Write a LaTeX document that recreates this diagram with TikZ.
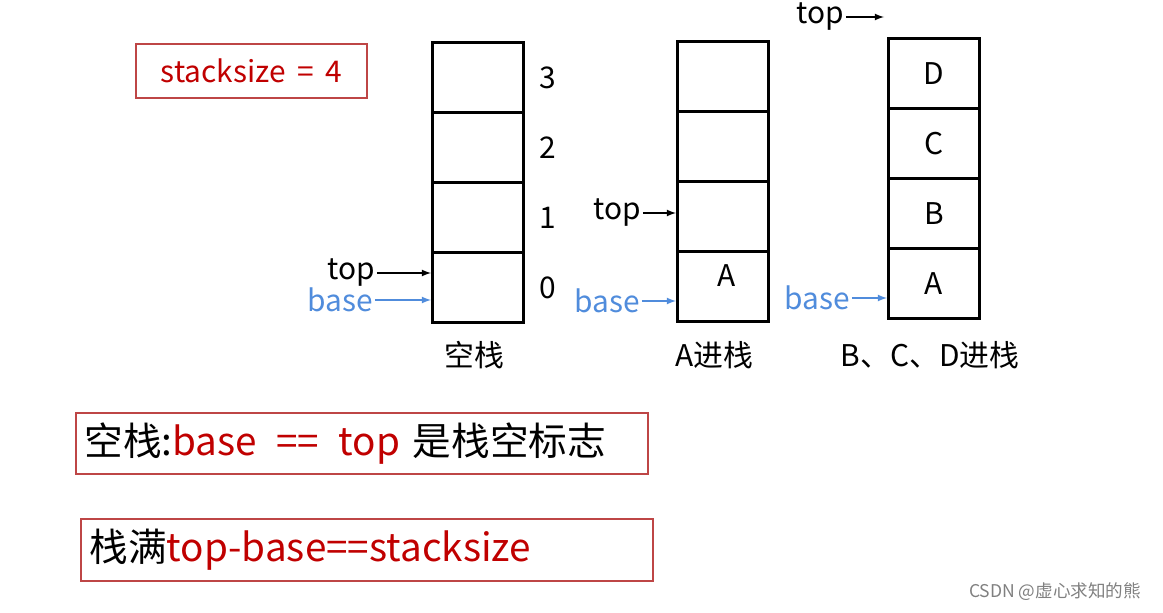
\documentclass[tikz,border=0pt]{standalone}
\usepackage{fontspec}
\setmainfont{Noto Sans CJK SC}
\usetikzlibrary{positioning}
\definecolor{darkred}{RGB}{192,0,0}
\definecolor{boxred}{RGB}{190,70,70}
\definecolor{baseblue}{RGB}{80,140,220}
\tikzset{
  cell/.style={draw,line width=1.6pt,minimum width=1.82cm,minimum height=1.4cm,inner sep=0pt},
  lbl/.style={font=\fontsize{17}{17}\selectfont,inner sep=1pt},
  note/.style={draw=boxred,line width=1.2pt,inner sep=0pt,anchor=north west},
  ptr/.style={-latex,thick},
}
\begin{document}
\begin{tikzpicture}[x=0.02cm,y=-0.02cm]
  \useasboundingbox (0,0) rectangle (1163,612);
  % stacks
  \foreach \n/\x/\y in {a/431/41, b/676/40, c/887/37}{
    \foreach \k [count=\j from 0] in {3,2,1,0}{
      \node[cell,anchor=north west] (\n\k) at (\x,\y+70*\j) {};
    }
  }
  % indices
  \foreach \k in {0,1,2,3}{
    \node[lbl,right=0.25cm of a\k] (i\k) {\k};
  }
  % contents
  \node[lbl] (ca) at (727,276) {A};
  \foreach \k/\t in {0/A,1/B,2/C,3/D}{
    \node[lbl] (cc\k) at (c\k) {\t};
  }
  % pointers
  \node[lbl] (topa) at (351,273) {top};
  \node[lbl,text=baseblue] (basea) at (340,300) {base};
  \draw[ptr] (topa.east) -- (topa.east-|a0.west);
  \draw[ptr,baseblue] (basea.east) -- (basea.east-|a0.west);
  \node[lbl] (topb) at (617,213) {top};
  \node[lbl,text=baseblue] (baseb) at (607,301) {base};
  \draw[ptr] (topb.east) -- (topb.east-|b1.west);
  \draw[ptr,baseblue] (baseb.east) -- (baseb.east-|b0.west);
  \node[lbl] (topc) at (820,17) {top};
  \node[lbl,text=baseblue] (basec) at (817,298) {base};
  \coordinate (topend) at (884,15);
  \draw[ptr] (topc.east) -- (topc.east-|topend);
  \draw[ptr,baseblue] (basec.east) -- (basec.east-|c0.west);
  % captions
  \node[lbl] (capa) at (474,355) {空栈};
  \node[lbl] (capb) at (714,355) {A进栈};
  \node[lbl] (capc) at (930,355) {B、C、D进栈};
  % notes
  \node[note,minimum width=4.62cm,minimum height=1.08cm,text=darkred,font=\fontsize{17}{17}\selectfont] (size) at (135,43) {stacksize \,=\, 4};
  \node[note,minimum width=11.44cm,minimum height=1.22cm,font=\fontsize{22}{22}\selectfont,align=left,text width=11.1cm] (empty) at (75,412) {空栈:\textcolor{darkred}{base \,==\, top} 是栈空标志};
  \node[note,minimum width=11.44cm,minimum height=1.24cm,font=\fontsize{22}{22}\selectfont,align=left,text width=11.1cm] (full) at (80,518) {栈满\textcolor{darkred}{top-base==stacksize}};
  \node[text=gray,font=\fontsize{10}{10}\selectfont] (mark) at (1055,592) {CSDN @虚心求知的熊};
\end{tikzpicture}
\end{document}
